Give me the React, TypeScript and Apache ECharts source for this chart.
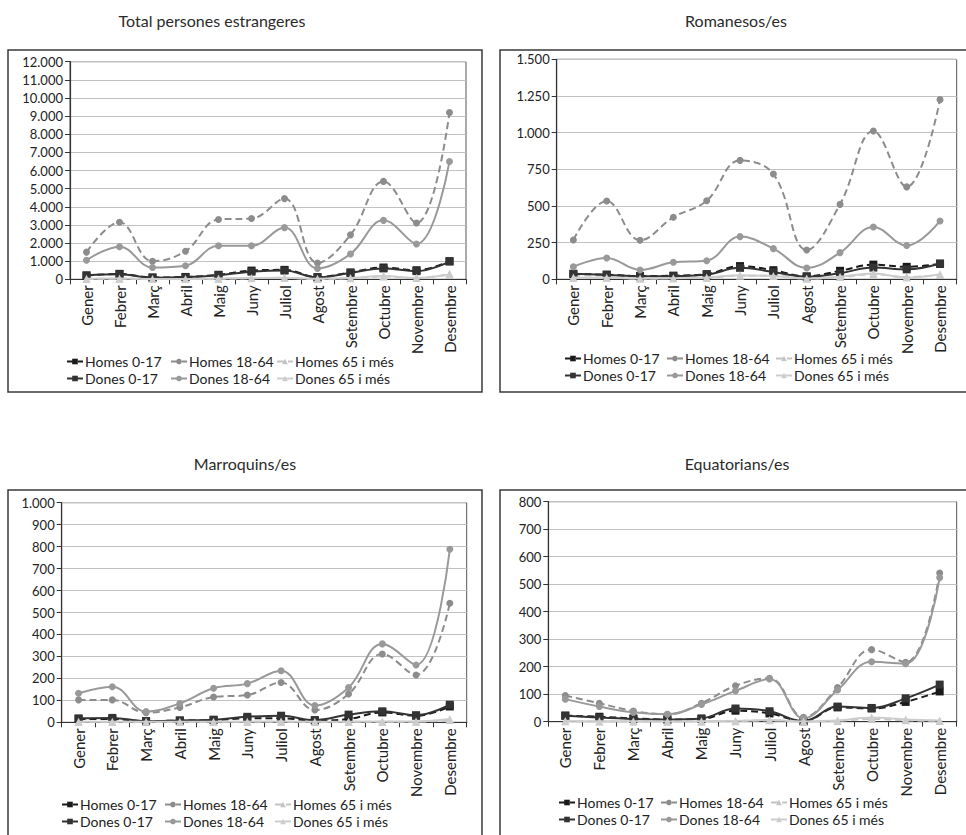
import React, { useEffect, useRef } from "react";
import * as echarts from "echarts";

const months = ["Gener", "Febrer", "Març", "Abril", "Maig", "Juny", "Juliol", "Agost", "Setembre", "Octubre", "Novembre", "Desembre"];
const seriesNames = ["Homes 0-17", "Homes 18-64", "Homes 65 i més", "Dones 0-17", "Dones 18-64", "Dones 65 i més"];
const panelTitles = ["Total persones estrangeres", "Romanesos/es", "Marroquins/es", "Equatorians/es"];
const yMax = [12000, 1500, 1000, 800];
const yStep = [1000, 250, 100, 100];

// Total persones estrangeres
const totalHomes017 = [200, 300, 100, 130, 250, 480, 520, 120, 380, 650, 500, 1000];
const totalHomes1864 = [1500, 3150, 1000, 1550, 3300, 3350, 4450, 900, 2450, 5400, 3100, 9200];
const totalHomes65 = [20, 30, 10, 15, 30, 60, 80, 20, 60, 150, 70, 300];
const totalDones017 = [220, 280, 90, 120, 230, 420, 480, 100, 350, 600, 450, 980];
const totalDones1864 = [1050, 1800, 650, 750, 1850, 1850, 2850, 600, 1400, 3250, 1950, 6500];
const totalDones65 = [30, 40, 20, 20, 40, 70, 90, 30, 70, 180, 80, 250];

// Romanesos/es
const romHomes017 = [35, 32, 22, 25, 35, 90, 62, 20, 58, 100, 85, 105];
const romHomes1864 = [268, 534, 266, 423, 536, 811, 718, 200, 511, 1011, 630, 1225];
const romHomes65 = [10, 12, 5, 8, 10, 25, 25, 5, 15, 35, 15, 30];
const romDones017 = [38, 30, 20, 22, 32, 78, 50, 18, 42, 80, 68, 108];
const romDones1864 = [86, 145, 64, 116, 127, 291, 209, 77, 182, 357, 230, 398];
const romDones65 = [12, 10, 6, 8, 12, 28, 22, 6, 18, 40, 12, 35];

// Marroquins/es
const marHomes017 = [15, 15, 5, 8, 10, 18, 18, 8, 15, 45, 30, 72];
const marHomes1864 = [102, 102, 44, 68, 115, 124, 181, 56, 129, 311, 215, 542];
const marHomes65 = [2, 2, 1, 1, 2, 2, 3, 1, 2, 3, 3, 10];
const marDones017 = [18, 20, 5, 8, 12, 25, 30, 10, 35, 50, 32, 80];
const marDones1864 = [132, 162, 49, 86, 155, 176, 235, 76, 158, 357, 261, 788];
const marDones65 = [3, 3, 2, 2, 3, 3, 4, 2, 3, 4, 4, 15];

// Equatorians/es
const equHomes017 = [22, 18, 12, 8, 10, 40, 30, 2, 52, 48, 72, 110];
const equHomes1864 = [95, 67, 39, 27, 67, 131, 158, 16, 124, 262, 216, 541];
const equHomes65 = [2, 1, 1, 1, 1, 2, 5, 1, 3, 10, 5, 3];
const equDones017 = [22, 15, 10, 8, 12, 48, 38, 2, 55, 50, 85, 135];
const equDones1864 = [82, 55, 34, 27, 63, 112, 155, 12, 115, 218, 211, 524];
const equDones65 = [3, 2, 2, 1, 2, 3, 6, 1, 4, 15, 8, 4];

const panelData = [
  [totalHomes017, totalHomes1864, totalHomes65, totalDones017, totalDones1864, totalDones65],
  [romHomes017, romHomes1864, romHomes65, romDones017, romDones1864, romDones65],
  [marHomes017, marHomes1864, marHomes65, marDones017, marDones1864, marDones65],
  [equHomes017, equHomes1864, equHomes65, equDones017, equDones1864, equDones65],
];

const FONT = "Lato, 'Open Sans', sans-serif";

const seriesStyle = [
  { color: "#1a1a1a", type: "dashed", symbol: "rect", size: 8 },
  { color: "#8c8c8c", type: "dashed", symbol: "circle", size: 7 },
  { color: "#c4c4c4", type: "dashed", symbol: "triangle", size: 8 },
  { color: "#333333", type: "solid", symbol: "rect", size: 8 },
  { color: "#999999", type: "solid", symbol: "circle", size: 7 },
  { color: "#cdcdcd", type: "solid", symbol: "triangle", size: 8 },
];

const grids = [
  { left: 70, top: 61.7, width: 396, height: 217.6 },
  { left: 556.7, top: 59.3, width: 400, height: 220 },
  { left: 61.7, top: 502.7, width: 405, height: 219.6 },
  { left: 548.3, top: 501.7, width: 408.4, height: 220 },
];

const boxes = [
  { x: 8, y: 50, w: 474, h: 342 },
  { x: 500, y: 50, w: 470, h: 342 },
  { x: 8, y: 490, w: 474, h: 360 },
  { x: 500, y: 490, w: 470, h: 360 },
];

const titlePos = [
  { x: 212, y: 20 },
  { x: 736, y: 20 },
  { x: 245, y: 463 },
  { x: 737, y: 463 },
];

const legendPos = [
  { top: 353, cols: [66, 170, 276] },
  { top: 350, cols: [564, 666, 775] },
  { top: 796, cols: [61, 164, 274] },
  { top: 794, cols: [558, 660, 770] },
];

function fmt(v: number) {
  return String(v).replace(/\B(?=(\d{3})+(?!\d))/g, ".");
}

export default function App() {
  const ref = useRef<HTMLDivElement>(null);
  useEffect(() => {
    if (!ref.current) return;
    const chart = echarts.init(ref.current, undefined, { renderer: "svg" });

    const grid: any[] = [];
    const xAxis: any[] = [];
    const yAxis: any[] = [];
    const series: any[] = [];
    const legend: any[] = [];
    const graphic: any[] = [];

    for (let p = 0; p < 4; p++) {
      grid.push({ ...grids[p], show: true, borderColor: "#555", borderWidth: 1, backgroundColor: "transparent" });
      xAxis.push({
        type: "category",
        gridIndex: p,
        data: months,
        boundaryGap: true,
        axisLine: { lineStyle: { color: "#333", width: 1.2 } },
        axisTick: { show: true, length: 5, lineStyle: { color: "#333" } },
        axisLabel: { rotate: 90, fontSize: 15, color: "#222", fontFamily: FONT, margin: 6, interval: 0 },
      });
      yAxis.push({
        type: "value",
        gridIndex: p,
        min: 0,
        max: yMax[p],
        interval: yStep[p],
        axisLine: { show: true, lineStyle: { color: "#333", width: 1.2 } },
        axisTick: { show: true, length: 5, lineStyle: { color: "#333" } },
        axisLabel: { fontSize: 13, color: "#222", fontFamily: FONT, margin: 7, formatter: (v: number) => fmt(v) },
        splitLine: { show: true, lineStyle: { color: "#c2c2c2", width: 1 } },
      });
      for (let s = 0; s < 6; s++) {
        const st = seriesStyle[s];
        series.push({
          type: "line",
          name: seriesNames[s],
          xAxisIndex: p,
          yAxisIndex: p,
          data: panelData[p][s],
          smooth: 0.4,
          symbol: st.symbol,
          symbolSize: st.size,
          showAllSymbol: true,
          lineStyle: { color: st.color, width: 2, type: st.type === "dashed" ? [7, 4] : "solid" },
          itemStyle: { color: st.color },
          emphasis: { disabled: true },
          z: 2 + s,
        });
      }
      for (let c = 0; c < 3; c++) {
        legend.push({
          orient: "vertical",
          left: legendPos[p].cols[c],
          top: legendPos[p].top,
          padding: 0,
          itemGap: 0,
          itemWidth: 16,
          itemHeight: 7,
          selectedMode: false,
          data: [seriesNames[c], seriesNames[c + 3]],
          textStyle: { fontSize: 14, color: "#222", fontFamily: FONT, lineHeight: 17, padding: [0, 0, 0, -3] },
        });
      }
      graphic.push({
        type: "rect",
        shape: { x: boxes[p].x, y: boxes[p].y, width: boxes[p].w, height: boxes[p].h },
        style: { fill: "none", stroke: "#3a3a3a", lineWidth: 1.5 },
        silent: true,
        z: 0,
      });
      graphic.push({
        type: "text",
        x: titlePos[p].x,
        y: titlePos[p].y,
        style: {
          text: panelTitles[p],
          fontSize: 16,
          fontFamily: FONT,
          fill: "#2a2a2a",
          align: "center",
          verticalAlign: "middle",
        },
        silent: true,
      });
    }

    chart.setOption({
      animation: false,
      backgroundColor: "#fff",
      textStyle: { fontFamily: FONT },
      grid,
      xAxis,
      yAxis,
      series,
      legend,
      graphic,
    });
    return () => chart.dispose();
  }, []);

  return <div ref={ref} style={{ width: 966, height: 835, position: "absolute", left: 0, top: 0 }} />;
}
